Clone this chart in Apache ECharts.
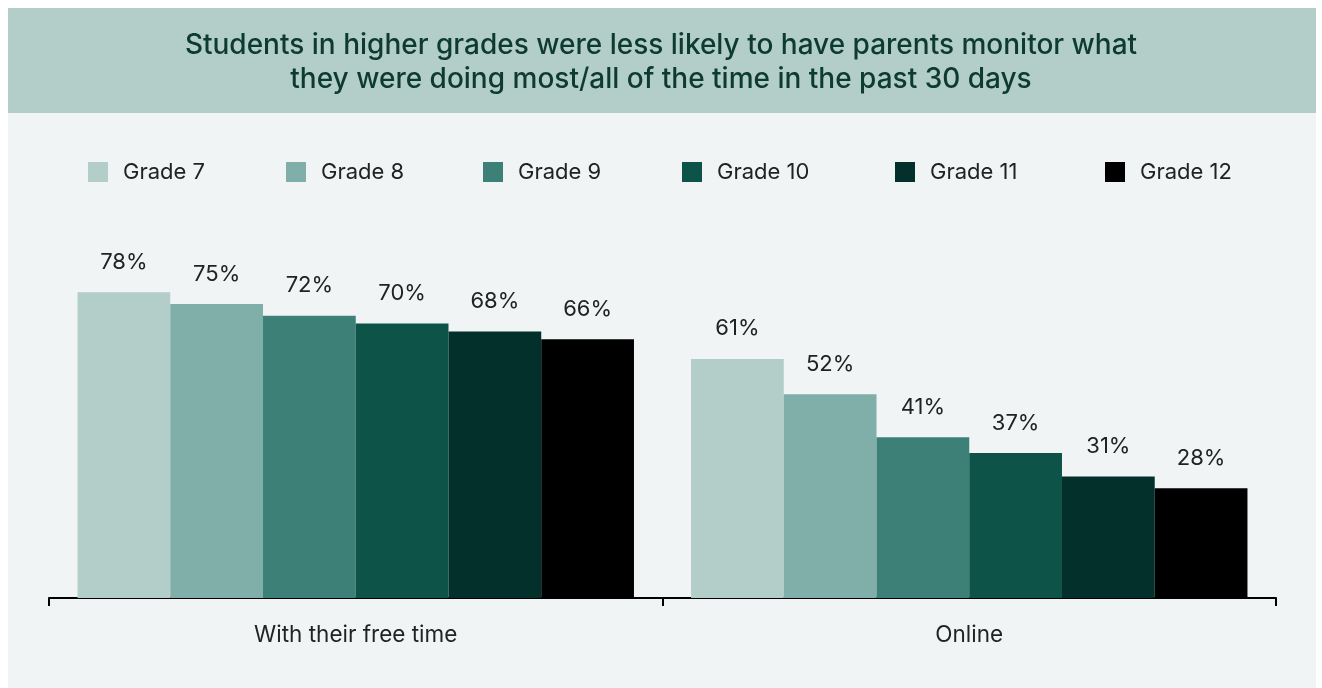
<!DOCTYPE html>
<html>
<head>
<meta charset="utf-8">
<script src="https://cdn.jsdelivr.net/npm/echarts@6/dist/echarts.min.js"></script>
<style>
  html, body { margin: 0; padding: 0; background: #ffffff; }
  #chart { width: 1322px; height: 688px; }
</style>
</head>
<body>
<div id="chart"></div>
<script>
// Share of students whose parents monitored them most/all of the time
const categories = ['With their free time', 'Online'];
const grades = ['Grade 7', 'Grade 8', 'Grade 9', 'Grade 10', 'Grade 11', 'Grade 12'];
const grade7 = [78, 61];
const grade8 = [75, 52];
const grade9 = [72, 41];
const grade10 = [70, 37];
const grade11 = [68, 31];
const grade12 = [66, 28];
const gradeColors = ['#b3cdc9', '#80aea8', '#3d8078', '#0e5347', '#04302b', '#000000'];
const legendLeft = [83, 281, 478, 677, 890, 1100];

const seriesValues = [grade7, grade8, grade9, grade10, grade11, grade12];
const FONT = 'Inter, Roboto, "Noto Sans", sans-serif';

const chart = echarts.init(document.getElementById('chart'), null, { renderer: 'canvas' });

const option = {
  backgroundColor: '#ffffff',
  animation: false,
  graphic: [
    { type: 'rect', left: 8, top: 8, shape: { width: 1308, height: 105 }, style: { fill: '#b3cdc9' }, z: -10 },
    { type: 'rect', left: 8, top: 113, shape: { width: 1308, height: 575 }, style: { fill: '#f0f4f5' }, z: -10 }
  ],
  title: {
    text: 'Students in higher grades were less likely to have parents monitor what\nthey were doing most/all of the time in the past 30 days',
    left: 'center',
    top: 24,
    textStyle: {
      fontFamily: FONT,
      fontSize: 28,
      fontWeight: 500,
      color: '#0d3b2e',
      lineHeight: 34,
      align: 'center'
    }
  },
  legend: grades.map((g, i) => ({
    data: [g],
    left: legendLeft[i],
    top: 156,
    itemWidth: 20,
    itemHeight: 20,
    itemGap: 0,
    icon: 'rect',
    textStyle: { fontFamily: FONT, fontSize: 22, color: '#222222', padding: [0, 0, 0, 10] },
    selectedMode: false
  })),
  grid: { left: 49, right: 46, top: 206, bottom: 90 },
  xAxis: {
    type: 'category',
    data: categories,
    axisLine: { show: true, lineStyle: { color: '#000000', width: 2 } },
    axisTick: { show: true, length: 8, lineStyle: { color: '#000000', width: 2 } },
    axisLabel: { fontFamily: FONT, fontSize: 22.5, color: '#222222', margin: 26 }
  },
  yAxis: {
    type: 'value',
    min: 0,
    max: 100,
    show: false
  },
  series: grades.map((g, i) => ({
    name: g,
    type: 'bar',
    data: seriesValues[i],
    barGap: '0%',
    barCategoryGap: '9.3%',
    itemStyle: { color: gradeColors[i] },
    label: {
      show: true,
      position: 'top',
      distance: 19,
      formatter: '{c}%',
      fontFamily: FONT,
      fontSize: 22,
      color: '#222222'
    }
  }))
};

chart.setOption(option);
</script>
</body>
</html>
